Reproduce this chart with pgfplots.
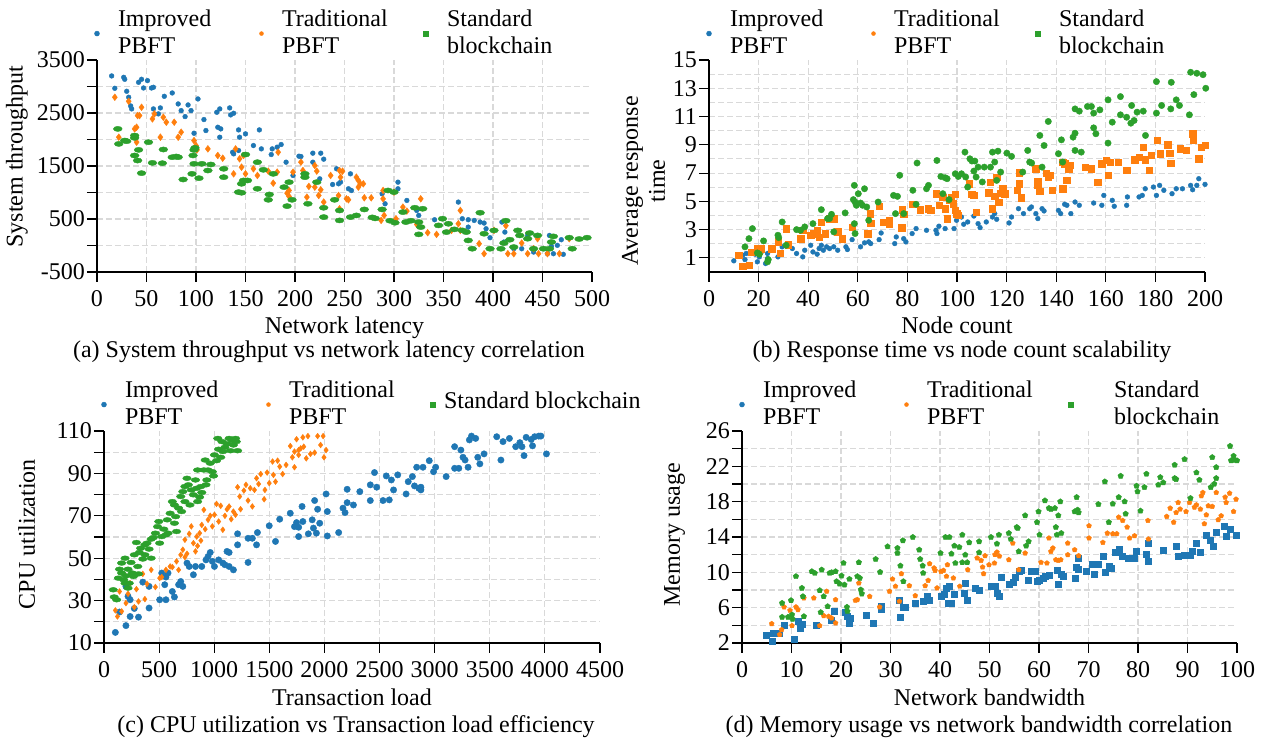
\documentclass[border=0pt]{standalone}
\usepackage{fontspec}
\setmainfont{Liberation Serif}
\usepackage{pgfplots}
\pgfplotsset{compat=1.18}
\definecolor{cB}{HTML}{1F77B4}
\definecolor{cO}{HTML}{FF7F0E}
\definecolor{cG}{HTML}{2CA02C}
\newcommand\twol[2]{\begin{tabular}[c]{@{}l@{}}#1\\#2\end{tabular}}
\newcommand\onel[1]{\begin{tabular}[c]{@{}l@{}}#1\end{tabular}}
\newcommand\LE[1]{\makebox[141.5pt][l]{#1}}
\pgfplotsset{
  myax/.style={
    scale only axis, width=495pt, height=212pt,
    axis lines=left, axis line style={-, black, line width=1.1pt},
    tick align=outside, major tick length=10pt, minor tick length=10pt,
    tick style={black, line width=1.1pt},
    grid=both,
    grid style={dash pattern=on 6pt off 3pt, line width=1.1pt, color=black!15},
    minor grid style={dash pattern=on 6pt off 3pt, line width=1.1pt, color=black!15},
    major grid style={dash pattern=on 6pt off 3pt, line width=1.1pt, color=black!15},
    scaled ticks=false,
    /pgf/number format/assume math mode=true,
    /pgf/number format/1000 sep={},
    yticklabel style={inner sep=2pt},
    extra tick style={grid=none},
    clip=false,
    legend columns=3,
    legend cell align=left,
    legend style={draw=none, fill=none, inner sep=0pt, outer sep=0pt,
      at={(0,1)}, anchor=south west, xshift=-2.5pt, yshift=15.5pt,
      nodes={inner sep=0pt},
      /tikz/every odd column/.append style={column sep=18.5pt}},
    legend image code/.code={\draw[##1] plot coordinates {(0pt,-7.5pt)};},
    xlabel style={at={(axis description cs:0.5,0)}, anchor=base, yshift=-62pt},
  },
}
\begin{document}
\fontsize{24pt}{27pt}\selectfont
\begin{tikzpicture}
\useasboundingbox (0,0) rectangle (1265pt,738pt);
% ---------------- (a)
\begin{axis}[myax, at={(97pt,466pt)}, anchor=south west,
  xmin=0, xmax=500, ymin=-500, ymax=3500,
  xtick={0,50,...,450}, extra x ticks={500},
  ytick={-500,500,1500,2500}, extra y ticks={3500},
  minor ytick={0,1000,2000,3000},
  xlabel={Network latency}, ylabel={System throughput},
  ylabel style={at={(axis description cs:-0.162,0.544)}, anchor=center}]
\addlegendimage{only marks, mark=*, color=cB, mark size=2.5pt}
\addlegendentry{\LE{\twol{Improved}{PBFT}}}
\addlegendimage{only marks, mark=*, color=cO, mark size=2pt}
\addlegendentry{\LE{\twol{Traditional}{PBFT}}}
\addlegendimage{only marks, mark=square*, color=cG, mark size=2.5pt}
\addlegendentry{\LE{\twol{Standard}{blockchain}}}
\addplot[only marks, mark=*, color=cB, mark size=2.4pt, forget plot] coordinates {
(14.8,3199)(18,2966)(27,3173)(28,3136)(30,2910)(32,2797)(34,2633)(35,2577)(42,3079)(45,3136)(47,2972)(51,3111)(55,2972)(57,2985)(57,2577)(62,2483)(64,2596)(68,2815)(76,2878)(82,2671)(85,2545)(89,2432)(92,2652)(95,2545)(98,2118)(102,2765)(108,2376)(110,2169)(121,2514)(124,2577)(122,2231)(125,2200)(124,2043)(134,2596)(135,2464)(138,2495)(137,1760)(138,1729)(143,2181)(144,2043)(143,1792)(150,2106)(158,1886)(164,2181)(166,1823)(176,1716)(177,1823)(182,1855)(186,1905)(191,1572)(198,1321)(204,1685)(206,1679)(218,1742)(218,1572)(226,1742)(229,1629)(225,1258)(238,1151)(242,1447)(244,1164)(246,1195)(256,1352)(254,1070)(257,1038)(288,975)(291,787)(304,1195)(304,1070)(313,850)(323,661)(325,567)(341,486)(365,819)(369,505)(375,486)(375,347)(381,473)(387,442)(391,423)(393,316)(397,147)(409,442)(412,253)(411,65)(421,-61)(429,-61)(435,190)(441,-124)(457,190)(459,-17)(455,-155)(465,3)(469,109)(471,-167)(461,-155)};
\addplot[only marks, mark=diamond*, color=cO, mark size=3.4pt, forget plot] coordinates {
(18,2797)(22,2043)(32,2721)(38,2200)(40,2231)(40,1949)(41,2451)(43,2451)(45,2608)(56,2388)(58,2483)(64,2043)(67,2420)(70,2326)(78,2326)(82,2043)(85,2137)(98,1980)(100,1886)(101,1804)(112,1823)(122,1698)(127,1647)(138,1352)(140,1823)(144,1635)(146,1478)(148,1698)(150,1352)(158,1447)(162,1321)(173,1403)(178,1176)(182,1384)(183,1760)(192,988)(194,1038)(194,925)(198,1384)(206,1572)(208,1415)(212,912)(214,1114)(220,1101)(220,1509)(222,1403)(224,944)(226,1051)(229,819)(236,1321)(245,1415)(246,1289)(244,944)(245,693)(252,881)(254,862)(248,1403)(262,1289)(264,1227)(264,1101)(266,1164)(269,1164)(270,900)(277,900)(287,473)(289,881)(289,1038)(290,567)(300,1007)(302,505)(309,724)(313,649)(323,398)(327,881)(334,241)(343,210)(358,285)(365,410)(367,661)(367,285)(386,34)(391,-155)(401,285)(413,373)(415,-155)(421,-155)(429,46)(435,-155)(441,-61)(445,128)(446,-155)(455,-155)(467,-155)(477,128)};
\addplot[only marks, mark=*, color=cG, mark size=2.6pt, mark options={xscale=1.7}, forget plot] coordinates {
(21,2200)(22,1917)(28,1980)(30,1968)(38,2074)(38,2031)(38,1698)(42,1804)(41,1603)(45,1365)(52,1949)(56,1559)(66,1553)(67,1811)(76,1666)(80,1679)(82,1666)(87,1245)(96,1352)(97,1698)(98,1804)(99,1842)(98,1541)(103,1270)(106,1541)(115,1528)(112,1415)(128,1447)(128,1289)(143,1007)(146,995)(146,1164)(148,1227)(152,1227)(150,1716)(162,1572)(162,1070)(168,1428)(174,963)(178,1352)(173,862)(189,1101)(192,743)(194,1195)(197,862)(210,1352)(210,1289)(213,787)(222,1195)(229,536)(229,712)(240,862)(245,661)(245,473)(256,536)(262,567)(270,680)(278,530)(281,511)(288,680)(294,1038)(300,1007)(296,467)(301,430)(309,630)(312,442)(317,467)(321,712)(325,442)(325,210)(327,347)(329,693)(345,379)(349,505)(353,253)(355,410)(361,304)(369,285)(373,253)(375,96)(379,-61)(387,618)(391,222)(397,-61)(401,285)(408,-61)(411,46)(413,467)(417,109)(421,-30)(425,285)(427,190)(435,128)(437,235)(445,190)(441,-61)(451,-61)(457,-61)(459,65)(461,172)(477,147)(480,-61)(487,122)(495,147)};
\end{axis}
% ---------------- (b)
\begin{axis}[myax, at={(709pt,466pt)}, anchor=south west, width=496pt,
  xmin=0, xmax=200, ymin=0, ymax=15,
  xtick={0,20,...,180}, extra x ticks={200},
  ytick={1,3,...,13}, extra y ticks={15},
  minor ytick={2,4,...,14}, minor tick length=0pt,
  xlabel={Node count}, ylabel={Average response\\time},
  ylabel style={align=center, at={(axis description cs:-0.132,0.43)}, anchor=center}]
\addlegendimage{only marks, mark=*, color=cB, mark size=2.5pt}
\addlegendentry{\LE{\twol{Improved}{PBFT}}}
\addlegendimage{only marks, mark=*, color=cO, mark size=2pt}
\addlegendentry{\LE{\twol{Traditional}{PBFT}}}
\addlegendimage{only marks, mark=square*, color=cG, mark size=2.5pt}
\addlegendentry{\LE{\twol{Standard}{blockchain}}}
\addplot[only marks, mark=*, color=cB, mark size=2.4pt, forget plot] coordinates {
(10,0.79)(13.6,1.19)(14.5,0.88)(15,1.31)(18.6,1.26)(19.5,0.72)(20.3,1.07)(21.1,1.42)(22.8,0.6)(23.6,0.95)(23.6,1.31)(25.3,1.54)(27.8,1.07)(29.5,1.78)(33.6,1.66)(35.3,1.31)(37.8,1.07)(38.6,1.54)(41,1.89)(41.9,1.42)(43.6,1.26)(44.4,1.66)(45.3,1.89)(46.1,1.54)(47.4,1.78)(48.6,1.66)(50.3,1.78)(51.9,1.54)(55.2,1.78)(55.8,1.59)(57.7,2.29)(61.1,1.78)(62.7,2.06)(64.4,2.13)(65.2,2.01)(68.6,2.29)(69.4,2.76)(74.9,2.01)(75.5,2.48)(78.5,2.36)(79.4,2.13)(81.9,2.72)(83.5,3.07)(87.7,2.95)(91.5,2.95)(91.9,2.72)(92.7,3.24)(95.2,3.07)(98.8,3.07)(99.8,3.66)(101.8,3.89)(102.7,3.38)(104.3,3.54)(106.8,3.96)(108.5,3.42)(109.3,3.14)(111.8,3.54)(114.3,3.89)(115.2,4.13)(116,3.73)(121,3.47)(122,3.89)(124.8,4.48)(126.8,4.13)(129.3,4.48)(130,4.6)(131.8,4.13)(132.6,3.78)(134.3,4.48)(135.1,4.32)(140.9,4.36)(141.8,4.13)(143.4,4.79)(144.3,4.72)(145.9,4.13)(147.6,4.95)(149.3,4.72)(155.1,4.88)(158.4,4.72)(159.2,5.42)(162.6,5.07)(163.4,4.65)(168.4,4.72)(168.7,5.31)(173.4,5.31)(174.7,5.42)(175.9,5.89)(179.2,6.01)(180.4,5.42)(181.7,6.13)(183.4,5.78)(186.7,5.54)(188.4,5.89)(190.9,5.89)(194.2,6.13)(195,5.82)(196.7,6.13)(197.5,6.6)(200,6.2)};
\addplot[only marks, mark=square*, color=cO, mark size=3.2pt, forget plot] coordinates {
(12,1.19)(13.6,0.41)(16.1,0.48)(17,1.42)(19.5,1.66)(20.3,1.5)(21.1,1.66)(25.3,1.66)(28.6,1.35)(27.8,2.13)(31.1,3.07)(31.9,1.94)(36.9,2.36)(37.8,2.95)(41,2.6)(41.9,2.72)(43.6,2.95)(44.4,2.48)(45.3,3.54)(46.9,2.72)(48.6,3.78)(50.3,3.78)(51.9,2.84)(53.6,2.36)(57.7,3.19)(64,2.72)(65.2,3.47)(64.9,4.13)(68.6,4.65)(70.2,3.54)(72.7,3.42)(72.7,3.66)(77.7,3.14)(78,4.41)(78.5,4.08)(82.2,4.79)(85.2,4.41)(88.5,4.48)(89.4,4.36)(91.5,5.54)(92.7,4.72)(94.3,5.31)(95.2,4.48)(96,3.78)(96.8,5.07)(97.7,5.31)(98.5,4.84)(99.3,5.49)(99.8,4.13)(100.5,4.01)(99.3,4.36)(104.8,6.25)(106,5.49)(106.8,5.42)(107.7,4.25)(112.7,5.61)(113.5,6.37)(114.3,4.48)(115.2,5.35)(116,6.72)(116.8,4.95)(117.6,5.59)(118.5,5.89)(119.3,5.54)(124.3,5.78)(125.1,6.25)(126,5.26)(125.1,7.02)(131.8,7.31)(132.6,6.13)(133.4,5.73)(132.6,6.43)(136,7.0)(136.8,6.72)(137.6,6.84)(138.5,5.78)(142.6,7.78)(143.4,7.66)(144.3,6.48)(145.1,7.31)(145.4,7.54)(142.6,5.89)(151.8,7.42)(154.2,7.31)(156.7,6.37)(158.4,7.66)(160.1,7.89)(160.9,6.84)(161.7,7.78)(165.1,7.78)(168.4,7.19)(171.7,7.94)(173.4,8.13)(175.1,8.84)(175.9,7.94)(177.6,7.19)(178.4,8.25)(180.8,9.31)(182,8.37)(185,9.02)(185.8,8.41)(186.2,7.71)(190,8.72)(192.5,8.6)(195,9.78)(195.3,9.31)(197.5,8.01)(198.4,8.84)(200,8.95)};
\addplot[only marks, mark=*, color=cG, mark size=3.2pt, forget plot] coordinates {
(14.5,1.78)(16.1,2.36)(17.5,3.07)(19.5,1.35)(20.3,1.26)(22,2.2)(23.6,0.72)(23.9,0.88)(27.8,2.6)(28.1,2.43)(29.5,3.54)(31.1,1.89)(35.3,3.0)(36.9,2.95)(38.6,3.19)(41.9,3.42)(45.3,4.41)(47.8,3.78)(48.6,3.78)(49.4,4.08)(50.3,2.84)(54.9,4.18)(58.6,6.13)(58.2,5.12)(58.9,4.95)(59.4,4.72)(60.2,5.54)(61.1,4.88)(61.9,4.72)(62.7,5.89)(63.6,4.6)(64.4,3.66)(58.6,3.42)(58.9,2.72)(68.2,4.95)(74.4,5.42)(75.2,4.13)(76,5.35)(76.9,6.84)(78.5,4.13)(82.2,5.78)(83.9,7.71)(83.5,4.79)(87.7,5.89)(88.5,6.13)(91.9,7.89)(93.5,6.76)(94.3,5.54)(95.2,6.67)(96,6.6)(96.8,5.12)(99.3,6.95)(100.5,6.76)(101.8,6.95)(103.2,8.48)(103.5,6.72)(104.3,6.01)(105.2,8.01)(106,7.85)(106.8,7.14)(107.2,7.85)(107.7,6.72)(108.5,7.42)(110.2,6.37)(111,7.42)(113.5,7.42)(114.3,8.48)(115.2,7.78)(116.5,8.55)(116,6.48)(117.6,7.07)(120.1,8.41)(122,8.18)(126.5,7.07)(128.5,8.6)(129.3,7.78)(130.1,7.71)(133.4,9.66)(134.3,7.42)(135.1,8.95)(136.8,10.65)(140.9,8.37)(142.1,9.35)(142.6,7.78)(146.8,9.54)(147.6,9.82)(147.6,8.6)(150.1,8.48)(147.6,11.54)(149.3,11.38)(152.6,11.71)(154.2,11.71)(155.1,11.24)(155.1,10.2)(156,9.78)(157.6,11.47)(160.9,12.18)(160.9,9.12)(162.6,10.6)(165.9,12.41)(165.9,11.12)(168.4,10.95)(170.1,10.53)(170.4,11.78)(171.4,10.72)(172.6,11.31)(175.1,11.38)(176,9.66)(180.4,13.47)(180.4,11.24)(182.5,11.78)(186.4,13.42)(186.2,11.54)(188.4,12.18)(189.7,11.78)(194.2,14.13)(195.5,12.55)(193.7,11.12)(196.7,14.06)(199.2,13.96)(200.3,13.0)};
\end{axis}
% ---------------- (c)
\begin{axis}[myax, at={(104pt,95pt)}, anchor=south west, width=496pt,
  xmin=0, xmax=4500, ymin=10, ymax=110,
  xtick={0,500,...,4000}, extra x ticks={4500},
  ytick={10,30,...,90}, extra y ticks={110},
  minor ytick={20,40,...,100},
  xlabel={Transaction load}, ylabel={CPU utilization},
  ylabel style={at={(axis description cs:-0.156,0.514)}, anchor=center}]
\addlegendimage{only marks, mark=*, color=cB, mark size=2.5pt}
\addlegendentry{\LE{\twol{Improved}{PBFT}}}
\addlegendimage{only marks, mark=*, color=cO, mark size=2pt}
\addlegendentry{\LE{\twol{Traditional}{PBFT}}}
\addlegendimage{only marks, mark=square*, color=cG, mark size=2.5pt}
\addlegendentry{\LE{\hspace*{-10pt}\raisebox{-8.5pt}{\onel{Standard blockchain}}}}
\addplot[only marks, mark=*, color=cB, mark size=3.2pt, forget plot] coordinates {
(103,15)(199,18.2)(141,24.6)(237,22.5)(313,22.2)(218,32)(237,30.4)(275,26.3)(409,26.5)(199,36.7)(352,38.7)(409,36.7)(505,30.4)(562,30.4)(524,43)(562,41.1)(551,37.5)(581,43)(620,34.3)(639,31.7)(677,37.5)(696,39)(715,36.7)(753,47.7)(773,46.1)(811,42.2)(830,46.1)(887,46.1)(925,49.2)(944,50.8)(964,52.7)(983,48.5)(1002,46.1)(1040,49.2)(1078,47.7)(1097,46.9)(1116,53.2)(1135,46.1)(1135,52.7)(1174,44.5)(1212,61.5)(1212,56.3)(1307,59.4)(1307,48)(1346,59.4)(1384,56.3)(1392,62.1)(1499,65.3)(1556,57.9)(1594,68.4)(1690,71.2)(1728,64.9)(1747,66.8)(1766,64.6)(1766,60.2)(1797,74.4)(1804,67.3)(1854,61.5)(1889,68.1)(1900,64.2)(1911,77.2)(1927,61.8)(1938,73.1)(1957,66.5)(2015,80.3)(2026,60.5)(2026,72)(2129,62.1)(2168,73.6)(2187,71.5)(2206,76.2)(2206,82.5)(2263,75.1)(2321,81.4)(2416,84.6)(2416,77.2)(2454,90.4)(2474,83.5)(2531,77.2)(2561,88.8)(2588,77.5)(2607,86.9)(2627,82.2)(2665,89.3)(2741,80.3)(2760,86.1)(2798,88.5)(2817,84.1)(2837,92.9)(2856,83)(2875,83.5)(2894,92.9)(2875,82.2)(2951,96)(2990,90.8)(3009,92.9)(3104,88.5)(3181,102.6)(3181,92.4)(3219,92.4)(3238,101)(3257,97.6)(3276,96.3)(3303,92.9)(3315,105.8)(3334,107.6)(3372,106.5)(3391,97.6)(3410,94.5)(3448,99.2)(3563,107.3)(3601,96.3)(3620,105)(3678,106.5)(3735,102.6)(3773,104.5)(3792,102.6)(3811,98.4)(3830,107)(3876,106)(3888,103)(3907,107.3)(3945,107.6)(3964,107.6)(4014,99.2)};
\addplot[only marks, mark=diamond*, color=cO, mark size=2.9pt, forget plot] coordinates {
(103,25.4)(122,22.5)(160,24.9)(141,34.3)(199,28.8)(237,38.2)(218,33.2)(275,26.9)(294,35.4)(313,29.6)(352,42.6)(371,30.7)(390,37.9)(428,44.5)(466,36.4)(505,40.6)(524,41.1)(562,44.5)(600,46.1)(620,45.8)(658,48.5)(677,44.5)(696,51.6)(715,54)(734,50.5)(753,52.1)(734,58.7)(773,61.5)(792,65)(811,57.1)(830,53.2)(841,60.2)(849,55.8)(868,61.8)(879,58.3)(887,65.7)(906,72.8)(918,63.7)(944,68.1)(964,70)(983,65)(1002,70.5)(1021,75.6)(1040,67.3)(1059,74.7)(1078,63.4)(1097,70)(1116,73.1)(1135,74.4)(1154,68.4)(1174,72)(1193,70.5)(1212,83.5)(1231,79.1)(1239,73.1)(1269,81.9)(1288,84.6)(1307,77.2)(1327,83)(1346,74.4)(1365,82.2)(1384,87.7)(1403,85)(1422,89.7)(1453,77.8)(1460,82.2)(1480,90.4)(1499,85.4)(1529,95.6)(1537,89.3)(1556,86.1)(1575,96)(1594,93.2)(1621,89.7)(1652,94)(1690,102.9)(1709,97.6)(1728,92.9)(1747,106.1)(1766,98.7)(1785,101.8)(1804,107)(1812,102.6)(1835,97.1)(1850,107.6)(1873,99.2)(1911,99.8)(1938,107.6)(1965,103.4)(1988,107.6)(2015,101)(1996,97.6)(1766,101)(1728,100.3)};
\addplot[only marks, mark=*, color=cG, mark size=2.4pt, mark options={xscale=1.8}, forget plot] coordinates {
(84,35.1)(92,31.7)(115,30.4)(141,44.8)(130,40.6)(160,47.7)(160,43)(179,39.8)(191,50)(199,41.7)(218,44.8)(229,38.2)(245,48)(256,43)(275,51.6)(267,41.4)(294,57.4)(306,46.1)(321,52.7)(332,54.7)(352,49.6)(371,56.3)(390,57.1)(409,54.3)(428,50)(447,59.7)(466,61.8)(486,64.9)(497,67.3)(505,57.1)(524,60.2)(543,63.7)(562,61)(574,68.1)(600,71.2)(620,76.7)(639,75.1)(650,69.6)(658,62.6)(677,73.6)(696,79.1)(715,81.4)(734,83.8)(734,76.7)(753,87.7)(765,84.6)(780,75.1)(792,82.2)(811,79.9)(830,86.9)(841,83)(849,76.7)(868,78.8)(879,83.8)(887,81)(906,91.6)(925,84.6)(933,86.9)(944,91.6)(964,94.8)(983,90.8)(994,88.8)(1002,98.7)(1021,96)(1032,106.5)(1040,101.4)(1059,97.6)(1070,105)(1078,100.3)(1097,102.3)(1116,103.9)(1135,106.5)(1147,100.7)(1162,105.5)(1174,103.4)(1193,106.5)(1200,105)(1212,100.7)(704,72)(639,66.5)(581,61.8)(428,59)(371,51.6)(313,42.6)(218,35.9)(191,38.2)(918,96.3)(849,91.6)};
\end{axis}
% ---------------- (d)
\begin{axis}[myax, at={(742pt,95pt)}, anchor=south west,
  xmin=0, xmax=100, ymin=2, ymax=26,
  xtick={0,10,...,90}, extra x ticks={100},
  ytick={2,6,...,22}, extra y ticks={26},
  minor ytick={4,8,...,24},
  xlabel={Network bandwidth}, ylabel={Memory usage},
  ylabel style={at={(axis description cs:-0.136,0.51)}, anchor=center}]
\addlegendimage{only marks, mark=*, color=cB, mark size=2.5pt}
\addlegendentry{\LE{\twol{Improved}{PBFT}}}
\addlegendimage{only marks, mark=*, color=cO, mark size=2pt}
\addlegendentry{\LE{\twol{Traditional}{PBFT}}}
\addlegendimage{only marks, mark=square*, color=cG, mark size=2.5pt}
\addlegendentry{\LE{\hspace*{22pt}\twol{Standard}{blockchain}}}
\addplot[only marks, mark=square*, color=cB, mark size=3pt, forget plot] coordinates {
(4.8,2.87)(6,2.19)(6.4,3.13)(7.6,3.13)(8.6,3.96)(10.5,2.38)(11.3,4.45)(11.7,3.69)(12.1,4.18)(14.9,3.96)(18,4.56)(18.7,5.58)(20.9,5.47)(21.3,5.01)(21.9,4.82)(21.7,4.26)(25,5.2)(26.6,4.26)(28.2,5.84)(28.2,6.22)(31.8,6.82)(32,4.94)(32.6,6.07)(33,6.07)(34.9,6.45)(36.6,6.71)(37.5,7.27)(37.9,6.9)(40.2,7.35)(40.8,7.58)(41.2,8.22)(41.6,6.52)(41.9,8.48)(42.3,6.52)(42.9,7.58)(44.8,7.65)(45.1,8.78)(45.5,6.82)(47.1,8.22)(47.9,7.95)(50.3,8.48)(51.1,8.41)(51.5,7.65)(51.9,7.35)(52.3,9.46)(53.9,8.71)(54.7,8.86)(55.1,9.46)(55.9,10.1)(56.3,10.29)(57.9,9.16)(58.4,10.1)(59.2,10.1)(59.6,8.97)(60,9.16)(60.8,9.35)(61.2,9.54)(62,9.72)(63.6,10.29)(63.8,8.71)(64.4,9.84)(64.8,9.54)(67.4,9.35)(67.6,10.59)(68,11.61)(68,10.37)(69.6,10.1)(70.8,10.97)(71.2,9.84)(72,10.89)(72.9,11.83)(73.3,10.03)(74.1,10.67)(74.6,10.48)(75.3,12.28)(76.1,12.62)(76.9,11.83)(78.1,11.61)(79.3,11.61)(79.7,12.39)(81.7,12.1)(82.1,13.3)(82.1,11.23)(85,12.55)(87.7,12.92)(88.1,11.87)(89.4,11.98)(90.6,11.98)(91,12.36)(91.8,13.3)(92.6,12.24)(93.8,14.24)(94.6,13.68)(95.2,12.92)(95.8,14.5)(97.4,15.19)(97.8,14.06)(98.6,14.88)(99.8,14.24)};
\addplot[only marks, mark=pentagon*, color=cO, mark size=2.6pt, forget plot] coordinates {
(6,4.18)(7.6,2.94)(8,3.5)(8.5,6.07)(9.7,5.69)(10.1,3.96)(10.9,6.07)(11.3,5.77)(12.5,7.09)(14.5,7.09)(15.7,3.96)(16.5,5.09)(17.1,7.84)(17.5,5.01)(18.1,4.82)(18.9,6.9)(18.9,4.26)(22.9,6.82)(23.3,6.9)(23.6,8.78)(25.8,7.27)(27.8,6.07)(29.8,7.84)(30.4,9.23)(31,8.41)(31.8,6.71)(32.2,9.84)(33.8,8.48)(35,7.35)(37,8.48)(37.6,9.08)(37.9,10.97)(38.8,10.48)(39,10.21)(39.4,8.22)(40.2,10.1)(40.7,10.21)(41.3,9.54)(41.5,10.85)(42.7,9.35)(44,8.41)(45.6,10.29)(47.5,11.61)(48.3,11.34)(48.6,10.59)(48.8,9.84)(49.1,11.87)(49.9,10.85)(51,11.04)(51.1,12.0)(51.5,12.28)(52,11.83)(53.9,11.42)(54.7,13.3)(55.9,10.29)(57.2,12.17)(60.4,11.12)(61.6,11.04)(62,13.87)(62.4,12.36)(62.8,12.74)(63.4,11.42)(63.9,11.34)(64.4,11.42)(65.8,13.3)(65.8,11.98)(67.2,12.55)(68,11.87)(70.1,15.26)(70.1,13.87)(72.9,13.38)(73.8,14.43)(74.9,14.36)(75.7,14.36)(76.1,16.24)(76.9,15.86)(77.8,15.11)(78.3,13.87)(79.3,14.13)(82,15.86)(82.1,13.76)(85.8,16.32)(86.5,17.26)(87.2,15.67)(87.7,16.77)(88.1,17.9)(88.5,17.15)(89.7,16.88)(90.4,17.9)(91.4,17.37)(91.8,17.63)(92.6,17.15)(92.8,18.65)(93.1,19.03)(93.4,15.49)(93.8,16.5)(94.2,17.52)(95,17.45)(95.8,19.03)(96.2,15.94)(96.8,16.39)(97.6,18.5)(97.8,17.9)(98.5,18.95)(99.3,16.88)(99.8,18.27)};
\addplot[only marks, mark=pentagon*, color=cG, mark size=2.9pt, forget plot] coordinates {
(8.1,6.52)(8.1,4.94)(9.3,4.94)(9.9,6.82)(10.1,5.2)(10.2,4.71)(10.9,9.54)(12.1,8.22)(12.3,7.27)(12.5,5.01)(14.1,10.1)(14.7,9.91)(15.7,7.95)(15.9,5.47)(16.1,10.29)(16.5,7.27)(17.3,6.14)(17.7,9.91)(18.1,9.99)(18.9,10.1)(19.1,8.97)(19.7,8.71)(20.1,9.61)(20.5,11.04)(20.7,8.59)(21.2,6.07)(21.3,5.58)(21.7,9.23)(23.3,9.54)(23.6,11.12)(23.8,9.35)(24,8.03)(24.2,7.58)(27,11.49)(27.9,10.03)(29.4,12.92)(31.4,12.74)(31.4,12.17)(32,10.74)(32.5,13.6)(32.6,8.97)(34.5,13.98)(35.8,12.55)(36,11.49)(36.6,9.91)(36.5,10.74)(40.1,12.17)(41.1,13.98)(41.9,13.98)(42.3,12.1)(42.9,13)(43.1,11.04)(43.9,12.85)(44.5,14.24)(44.5,11.12)(45.1,11.98)(45.5,11.12)(45.9,13.38)(47.9,12.24)(47.9,13.49)(50.3,13.98)(51.5,13.23)(51.9,14.24)(53.9,14.43)(54.3,13.76)(55.5,15.11)(55.7,15)(55.9,12.36)(57.2,16.43)(57.4,13)(57.9,13.49)(59.6,15.67)(59.9,16.88)(60.1,14.24)(61.2,18.12)(62,17.26)(62.4,17.15)(63.2,17.26)(63.4,15.11)(63.6,14.24)(63.9,16.43)(64.3,18.01)(64.5,14.43)(67.2,16.88)(67.6,18.5)(67.8,17.07)(68,16.77)(72,17.71)(73.3,20.27)(74.1,15.67)(74.9,17.75)(76.1,18.5)(76.5,20.91)(77.3,18.01)(77.5,16.62)(79.7,19.78)(79.9,19.14)(80.5,16.96)(81.3,19.63)(81.7,21.14)(84.1,19.9)(84.5,20.76)(85.1,20.16)(87.4,22.16)(87.4,20.65)(87.7,20.54)(89.4,22.8)(90.6,18.39)(91.8,21.29)(92.4,20.46)(94.7,19.63)(95,23.02)(95.4,20.01)(95.8,21.89)(95.8,20.65)(98.6,24.3)(98.8,22.65)(99.3,23.17)(99.5,22.72)(100,22.65)};
\end{axis}
% captions
\node[anchor=base] at (329pt,380pt) {(a) System throughput vs network latency correlation};
\node[anchor=base] at (962pt,380pt) {(b) Response time vs node count scalability};
\node[anchor=base] at (356pt,5pt) {(c) CPU utilization vs Transaction load efficiency};
\node[anchor=base] at (979pt,5pt) {(d) Memory usage vs network bandwidth correlation};
\end{tikzpicture}
\end{document}
